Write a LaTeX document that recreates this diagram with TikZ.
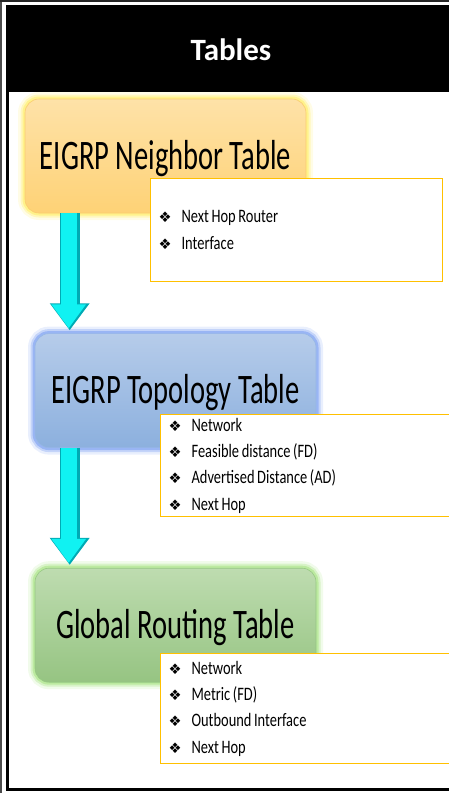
\documentclass[tikz,border=0pt]{standalone}
\usepackage{fontspec}
\setmainfont{Carlito}
\newfontfamily\boxfont[FakeStretch=0.68]{Carlito}
\newfontfamily\itemfont[FakeStretch=0.76]{Carlito}
\newfontfamily\bulfont{DejaVu Sans}
\usetikzlibrary{positioning,arrows.meta}

\definecolor{neighbortop}{RGB}{254,226,168}
\definecolor{neighborbot}{RGB}{254,210,118}
\definecolor{neighborline}{RGB}{250,205,110}
\definecolor{neighborglow}{RGB}{255,236,90}
\definecolor{topologytop}{RGB}{182,204,234}
\definecolor{topologybot}{RGB}{140,176,222}
\definecolor{topologyline}{RGB}{150,182,230}
\definecolor{topologyglow}{RGB}{110,150,240}
\definecolor{routingtop}{RGB}{190,220,176}
\definecolor{routingbot}{RGB}{150,196,130}
\definecolor{routingline}{RGB}{150,200,130}
\definecolor{routingglow}{RGB}{160,225,120}
\definecolor{listborder}{RGB}{255,192,0}
\definecolor{arrowcyan}{RGB}{16,242,242}
\definecolor{arrowdark}{RGB}{0,170,180}

\newcommand{\tabitem}[1]{\makebox[23pt][l]{\bulfont\fontsize{14.5}{14.5}\selectfont ❖}{\spaceskip=2.6pt plus 1pt\relax #1}}

\begin{document}
\begin{tikzpicture}[x=1pt, y=-1pt, node distance=120pt,
    tablebox/.style={rounded corners=14pt, minimum width=281pt, minimum height=114pt,
        inner sep=0pt, text height=26pt, text depth=0pt, line width=0.6pt,
        font=\boxfont\fontsize{42}{42}\selectfont, text=black},
    glow/.style={preaction={draw=#1, line width=14pt, opacity=0.15},
        preaction={draw=#1, line width=9pt, opacity=0.3},
        preaction={draw=#1, line width=5pt, opacity=0.5}},
    listbox/.style={draw=listborder, line width=1.2pt, fill=white, align=left,
        inner xsep=8pt, inner ysep=0pt, anchor=north west,
        font=\itemfont\fontsize{19}{26.3}\selectfont, text=black},
    bigarrow/.style={draw=arrowdark, line width=20pt, shorten >=3pt,
        -{Triangle[width=38pt,length=27pt]},
        postaction={transform canvas={xshift=-1pt}, draw=arrowcyan, line width=16pt,
            shorten >=5pt, -{Triangle[width=33pt,length=24pt]}}}]
    \clip (0,0) rectangle (449,793);

    % frame and header
    \draw[line width=1.5pt, black!70] (1,0) -- (1,793);
    \draw[line width=1.5pt, black!85] (0,0.75) -- (449,0.75);
    \fill[black] (5.5,5) rectangle (460,92);
    \draw[line width=3pt] (7.5,92) -- (7.5,789) -- (460,789);
    \node (title) [text=white, font=\bfseries\fontsize{31}{31}\selectfont, anchor=base] at (231,60) {Tables};

    % tables
    \node (neighbor) [tablebox, glow=neighborglow, top color=neighbortop, bottom color=neighborbot, draw=neighborline] at (165.5,156) {EIGRP Neighbor Table};
    \node (topology) [tablebox, glow=topologyglow, top color=topologytop, bottom color=topologybot, draw=topologyline, below=of neighbor, xshift=10pt] {EIGRP Topology Table};
    \node (routing) [tablebox, glow=routingglow, top color=routingtop, bottom color=routingbot, draw=routingline, below=of topology] {Global Routing Table};

    \draw[bigarrow] ([xshift=45pt]neighbor.south west) -- ([xshift=35pt]topology.north west);
    \draw[bigarrow] ([xshift=35pt]topology.south west) -- ([xshift=35pt]routing.north west);

    % contents
    \node (neighborlist) [listbox, text width=276pt, minimum height=103pt] at (150,178) {\tabitem{Next Hop Router}\\ \tabitem{Interface}};
    \node (topologylist) [listbox, text width=284pt, minimum height=102pt] at (160,414) {\tabitem{Network}\\ \tabitem{Feasible distance (FD)}\\ \tabitem{Advertised Distance (AD)}\\ \tabitem{Next Hop}};
    \node (routinglist) [listbox, text width=284pt, minimum height=110pt] at (160,653) {\tabitem{Network}\\ \tabitem{Metric (FD)}\\ \tabitem{Outbound Interface}\\ \tabitem{Next Hop}};
\end{tikzpicture}
\end{document}
